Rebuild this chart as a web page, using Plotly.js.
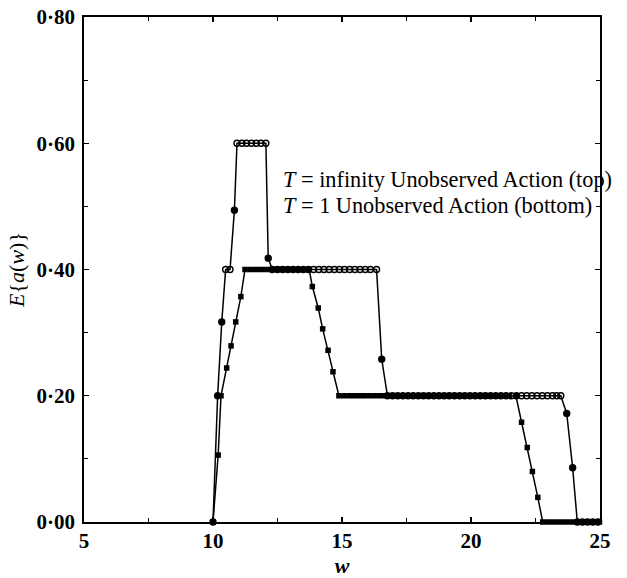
<!DOCTYPE html>
<html>
<head>
<meta charset="utf-8">
<script src="https://cdn.plot.ly/plotly-3.0.1.min.js"></script>
<style>
  html, body { margin: 0; padding: 0; background: #fff; }
  #chart { width: 627px; height: 578px; }
</style>
</head>
<body>
<div id="chart"></div>
<script>
// Expected action E{a(w)} against w, two horizons.

// T = infinity, unobserved action (top curve, open circles)
const wInf = [10.0, 10.18, 10.34, 10.49, 10.66, 10.83, 10.93,
  11.12, 11.30, 11.49, 11.68, 11.86, 12.05, 12.14,
  12.30, 12.50, 12.70, 12.90, 13.10, 13.30, 13.50, 13.70, 13.90, 14.10, 14.30,
  14.50, 14.70, 14.90, 15.10, 15.30, 15.50, 15.70, 15.90, 16.10, 16.34,
  16.54, 16.76,
  16.96, 17.16, 17.36, 17.56, 17.76, 17.96, 18.16, 18.36, 18.56, 18.76, 18.96,
  19.16, 19.36, 19.56, 19.76, 19.96, 20.16, 20.36, 20.56, 20.76, 20.96, 21.16,
  21.36, 21.56, 21.76, 21.96, 22.16, 22.36, 22.56, 22.76, 22.96, 23.16, 23.32, 23.48,
  23.71, 23.94, 24.12, 24.32, 24.52, 24.72, 24.92];
const aInf = [0.00, 0.20, 0.317, 0.40, 0.40, 0.494, 0.60,
  0.60, 0.60, 0.60, 0.60, 0.60, 0.60, 0.418,
  0.40, 0.40, 0.40, 0.40, 0.40, 0.40, 0.40, 0.40, 0.40, 0.40, 0.40,
  0.40, 0.40, 0.40, 0.40, 0.40, 0.40, 0.40, 0.40, 0.40, 0.40,
  0.258, 0.20,
  0.20, 0.20, 0.20, 0.20, 0.20, 0.20, 0.20, 0.20, 0.20, 0.20, 0.20,
  0.20, 0.20, 0.20, 0.20, 0.20, 0.20, 0.20, 0.20, 0.20, 0.20, 0.20,
  0.20, 0.20, 0.20, 0.20, 0.20, 0.20, 0.20, 0.20, 0.20, 0.20, 0.20, 0.20,
  0.172, 0.086, 0.00, 0.00, 0.00, 0.00, 0.00];

// T = 1, unobserved action (bottom curve, filled squares)
const wOne = [10.0, 10.20, 10.31, 10.53, 10.70, 10.88, 11.08, 11.24,
  11.44, 11.64, 11.84, 12.04, 12.24, 12.44, 12.64, 12.84, 13.04, 13.24, 13.44,
  13.64, 13.73,
  13.85, 14.08, 14.25, 14.46, 14.65, 14.88,
  15.08, 15.28, 15.48, 15.68, 15.88, 16.08, 16.28, 16.48, 16.68, 16.88, 17.08,
  17.28, 17.48, 17.68, 17.88, 18.08, 18.28, 18.48, 18.68, 18.88, 19.08, 19.28,
  19.48, 19.68, 19.88, 20.08, 20.28, 20.48, 20.68, 20.88, 21.08, 21.28, 21.48,
  21.74,
  21.96, 22.18, 22.38, 22.59, 22.78,
  22.98, 23.18, 23.38, 23.58, 23.78, 23.98, 24.18, 24.38, 24.58, 24.78, 24.98];
const aOne = [0.00, 0.106, 0.20, 0.244, 0.279, 0.317, 0.357, 0.40,
  0.40, 0.40, 0.40, 0.40, 0.40, 0.40, 0.40, 0.40, 0.40, 0.40, 0.40,
  0.40, 0.40,
  0.373, 0.339, 0.306, 0.272, 0.238, 0.20,
  0.20, 0.20, 0.20, 0.20, 0.20, 0.20, 0.20, 0.20, 0.20, 0.20, 0.20,
  0.20, 0.20, 0.20, 0.20, 0.20, 0.20, 0.20, 0.20, 0.20, 0.20, 0.20,
  0.20, 0.20, 0.20, 0.20, 0.20, 0.20, 0.20, 0.20, 0.20, 0.20, 0.20,
  0.20,
  0.158, 0.118, 0.08, 0.039, 0.00,
  0.00, 0.00, 0.00, 0.00, 0.00, 0.00, 0.00, 0.00, 0.00, 0.00, 0.00];

const xTicks = [5, 10, 15, 20, 25];
const yTicks = [0, 0.2, 0.4, 0.6, 0.8];
const yTickText = ['0·00', '0·20', '0·40', '0·60', '0·80'];
const legendLines = ['<i>T</i> = infinity Unobserved Action (top)',
                     '<i>T</i> = 1 Unobserved Action (bottom)'];

// points on a flat run show as rings, points on the slopes print solid
const infSymbols = aInf.map((v, i) =>
  (v === aInf[i - 1] || v === aInf[i + 1]) ? 'circle-open' : 'circle');

const serif = 'Liberation Serif, Times New Roman, serif';

const traces = [
  {
    x: wInf, y: aInf, type: 'scatter', mode: 'lines+markers',
    line: { color: '#000', width: 1.5 },
    marker: { symbol: infSymbols, size: 6, color: '#000',
              line: { color: '#000', width: 1.4 } },
    cliponaxis: false, hoverinfo: 'x+y'
  },
  {
    x: wOne, y: aOne, type: 'scatter', mode: 'lines+markers',
    line: { color: '#000', width: 1.5 },
    marker: { symbol: 'square', size: 5.5, color: '#000' },
    cliponaxis: false, hoverinfo: 'x+y'
  }
];

const tickFont = { family: serif, size: 21, color: '#000', weight: 'bold' };

const axisCommon = {
  showgrid: false, zeroline: false,
  showline: true, linecolor: '#000', linewidth: 1.8,
  mirror: 'allticks', ticks: 'inside', ticklen: 5, tickwidth: 1.2, tickcolor: '#000',
  tickfont: tickFont
};

const layout = {
  width: 627, height: 578,
  margin: { l: 84, r: 27, t: 17, b: 56 },
  paper_bgcolor: '#fff', plot_bgcolor: '#fff',
  showlegend: false,
  xaxis: Object.assign({}, axisCommon, {
    range: [5, 25], tickmode: 'array', tickvals: xTicks,
    ticktext: xTicks.map(String), ticklabelstandoff: -1,
    minor: { dtick: 2.5, ticks: 'inside', ticklen: 4, tickcolor: '#000', tickwidth: 1 },
    title: { text: '<i>w</i>', font: { family: serif, size: 22, color: '#000', weight: 'bold' }, standoff: 3 }
  }),
  yaxis: Object.assign({}, axisCommon, {
    range: [0, 0.8], tickmode: 'array', tickvals: yTicks, ticktext: yTickText,
    ticklabelstandoff: 3,
    minor: { dtick: 0.1, ticks: 'inside', ticklen: 4, tickcolor: '#000', tickwidth: 1 },
    title: { text: '<i>E</i>{<i>a</i>(<i>w</i>)}', font: { family: serif, size: 22, color: '#000' }, standoff: 6 }
  }),
  annotations: [
    { xref: 'paper', yref: 'paper', x: (281 - 84) / 516, y: 1 - (179 - 17) / 505,
      xanchor: 'left', yanchor: 'middle', showarrow: false, align: 'left',
      text: legendLines[0], font: { family: serif, size: 22.3, color: '#000' } },
    { xref: 'paper', yref: 'paper', x: (281 - 84) / 516, y: 1 - (205 - 17) / 505,
      xanchor: 'left', yanchor: 'middle', showarrow: false, align: 'left',
      text: legendLines[1], font: { family: serif, size: 22.3, color: '#000' } }
  ]
};

Plotly.newPlot('chart', traces, layout, { staticPlot: true, displayModeBar: false });
</script>
</body>
</html>
